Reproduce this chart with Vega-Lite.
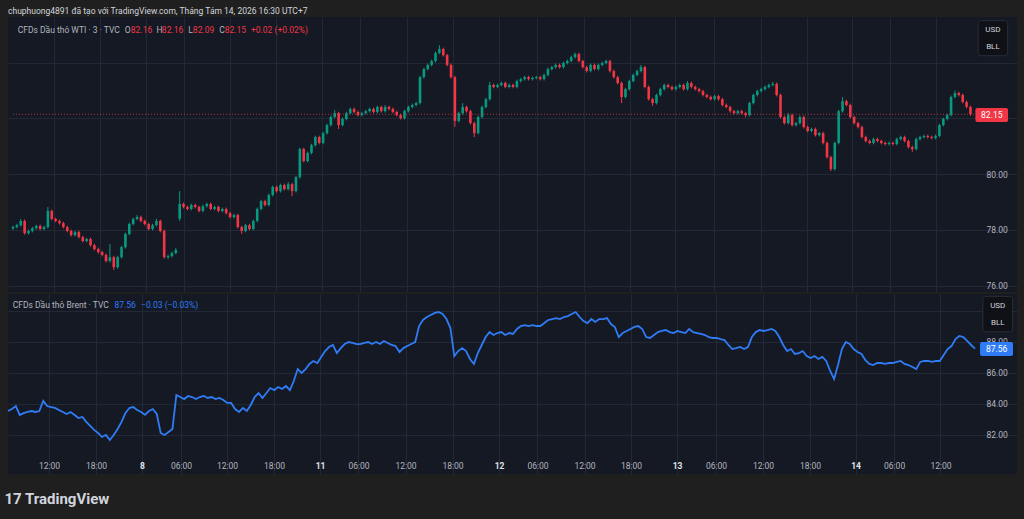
{
  "$schema": "https://vega.github.io/schema/vega-lite/v6.json",
  "background": "#1f1f1f",
  "padding": {"left": 4, "right": 7, "top": 6, "bottom": 13},
  "spacing": 2,
  "title": {"text": "17 TradingView", "orient": "bottom", "anchor": "start", "fontSize": 15, "fontWeight": "bold", "color": "#d1d4dc", "offset": 18},
  "config": {
    "font": "Roboto",
    "view": {"stroke": null},
    "axis": {"labelFont": "Roboto", "labelFontSize": 8.5, "labelColor": "#b2b5be", "gridColor": "#232836", "gridWidth": 1, "ticks": false, "domain": false, "labelOverlap": false}
  },
  "datasets": {
    "px": [
      {"t":0,"o":78.05,"h":78.15,"l":78.00,"c":78.10,"b":83.54},
      {"t":0.5,"o":78.10,"h":78.22,"l":78.05,"c":78.17,"b":83.67},
      {"t":1,"o":78.17,"h":78.39,"l":78.12,"c":78.32,"b":83.86},
      {"t":1.5,"o":78.32,"h":78.37,"l":77.83,"c":77.88,"b":83.29},
      {"t":2,"o":77.88,"h":78.01,"l":77.83,"c":77.96,"b":83.41},
      {"t":2.5,"o":77.96,"h":78.11,"l":77.91,"c":78.06,"b":83.48},
      {"t":3,"o":78.06,"h":78.19,"l":78.01,"c":78.14,"b":83.54},
      {"t":3.5,"o":78.14,"h":78.19,"l":77.98,"c":78.03,"b":83.48},
      {"t":4,"o":78.03,"h":78.15,"l":77.98,"c":78.10,"b":83.54},
      {"t":4.5,"o":78.10,"h":78.82,"l":78.05,"c":78.68,"b":84.19},
      {"t":5,"o":78.68,"h":78.73,"l":78.34,"c":78.39,"b":83.86},
      {"t":5.5,"o":78.39,"h":78.44,"l":78.27,"c":78.32,"b":83.80},
      {"t":6,"o":78.32,"h":78.37,"l":78.19,"c":78.24,"b":83.74},
      {"t":6.5,"o":78.24,"h":78.29,"l":78.05,"c":78.10,"b":83.61},
      {"t":7,"o":78.10,"h":78.15,"l":77.91,"c":77.96,"b":83.48},
      {"t":7.5,"o":77.96,"h":78.01,"l":77.76,"c":77.81,"b":83.35},
      {"t":8,"o":77.81,"h":77.97,"l":77.76,"c":77.92,"b":83.48},
      {"t":8.5,"o":77.92,"h":77.97,"l":77.69,"c":77.74,"b":83.29},
      {"t":9,"o":77.74,"h":77.79,"l":77.55,"c":77.60,"b":83.09},
      {"t":9.5,"o":77.60,"h":77.72,"l":77.55,"c":77.67,"b":83.16},
      {"t":10,"o":77.67,"h":77.72,"l":77.40,"c":77.45,"b":82.84},
      {"t":10.5,"o":77.45,"h":77.50,"l":77.26,"c":77.31,"b":82.58},
      {"t":11,"o":77.31,"h":77.36,"l":77.15,"c":77.20,"b":82.33},
      {"t":11.5,"o":77.20,"h":77.25,"l":77.05,"c":77.10,"b":82.13},
      {"t":12,"o":77.10,"h":77.15,"l":76.83,"c":76.88,"b":81.87},
      {"t":12.5,"o":76.88,"h":77.49,"l":76.83,"c":77.02,"b":82.00},
      {"t":13,"o":77.02,"h":77.07,"l":76.56,"c":76.66,"b":81.68},
      {"t":13.5,"o":76.66,"h":77.07,"l":76.61,"c":77.02,"b":82.00},
      {"t":14,"o":77.02,"h":77.43,"l":76.97,"c":77.38,"b":82.39},
      {"t":14.5,"o":77.38,"h":77.90,"l":77.33,"c":77.85,"b":82.84},
      {"t":15,"o":77.85,"h":78.26,"l":77.80,"c":78.21,"b":83.41},
      {"t":15.5,"o":78.21,"h":78.44,"l":78.16,"c":78.39,"b":83.74},
      {"t":16,"o":78.39,"h":78.53,"l":78.34,"c":78.46,"b":83.80},
      {"t":16.5,"o":78.46,"h":78.51,"l":78.27,"c":78.32,"b":83.61},
      {"t":17,"o":78.32,"h":78.37,"l":78.16,"c":78.21,"b":83.48},
      {"t":17.5,"o":78.21,"h":78.26,"l":77.98,"c":78.03,"b":83.29},
      {"t":18,"o":78.03,"h":78.22,"l":77.98,"c":78.17,"b":83.54},
      {"t":18.5,"o":78.17,"h":78.40,"l":78.12,"c":78.32,"b":83.67},
      {"t":19,"o":78.32,"h":78.37,"l":77.91,"c":77.96,"b":83.35},
      {"t":19.5,"o":77.96,"h":78.01,"l":76.97,"c":77.02,"b":82.13},
      {"t":20,"o":77.02,"h":77.11,"l":76.95,"c":77.06,"b":82.00},
      {"t":20.5,"o":77.06,"h":77.22,"l":77.01,"c":77.17,"b":82.19},
      {"t":21,"o":77.17,"h":77.35,"l":77.12,"c":77.28,"b":82.39},
      {"t":21.5,"o":78.40,"h":79.39,"l":78.32,"c":78.93,"b":84.57},
      {"t":22,"o":78.93,"h":78.98,"l":78.77,"c":78.82,"b":84.44},
      {"t":22.5,"o":78.82,"h":78.87,"l":78.70,"c":78.75,"b":84.31},
      {"t":23,"o":78.75,"h":78.94,"l":78.70,"c":78.89,"b":84.51},
      {"t":23.5,"o":78.89,"h":78.94,"l":78.77,"c":78.82,"b":84.44},
      {"t":24,"o":78.82,"h":78.87,"l":78.63,"c":78.68,"b":84.31},
      {"t":24.5,"o":78.68,"h":78.90,"l":78.63,"c":78.85,"b":84.44},
      {"t":25,"o":78.85,"h":78.98,"l":78.80,"c":78.93,"b":84.51},
      {"t":25.5,"o":78.93,"h":78.98,"l":78.70,"c":78.75,"b":84.38},
      {"t":26,"o":78.75,"h":78.87,"l":78.70,"c":78.82,"b":84.44},
      {"t":26.5,"o":78.82,"h":78.87,"l":78.63,"c":78.68,"b":84.31},
      {"t":27,"o":78.68,"h":78.80,"l":78.63,"c":78.75,"b":84.38},
      {"t":27.5,"o":78.75,"h":78.80,"l":78.55,"c":78.60,"b":84.25},
      {"t":28,"o":78.60,"h":78.65,"l":78.41,"c":78.46,"b":84.06},
      {"t":28.5,"o":78.46,"h":78.58,"l":78.41,"c":78.53,"b":84.06},
      {"t":29,"o":78.53,"h":78.58,"l":78.05,"c":78.10,"b":83.67},
      {"t":29.5,"o":78.10,"h":78.15,"l":77.85,"c":77.96,"b":83.48},
      {"t":30,"o":77.96,"h":78.22,"l":77.91,"c":78.17,"b":83.74},
      {"t":30.5,"o":78.17,"h":78.22,"l":77.98,"c":78.03,"b":83.54},
      {"t":31,"o":78.03,"h":78.37,"l":77.98,"c":78.32,"b":83.93},
      {"t":31.5,"o":78.32,"h":78.80,"l":78.27,"c":78.75,"b":84.44},
      {"t":32,"o":78.75,"h":79.08,"l":78.70,"c":79.03,"b":84.70},
      {"t":32.5,"o":79.03,"h":79.08,"l":78.84,"c":78.89,"b":84.38},
      {"t":33,"o":78.89,"h":79.30,"l":78.84,"c":79.25,"b":84.70},
      {"t":33.5,"o":79.25,"h":79.59,"l":79.20,"c":79.54,"b":85.02},
      {"t":34,"o":79.54,"h":79.59,"l":79.34,"c":79.39,"b":84.89},
      {"t":34.5,"o":79.39,"h":79.66,"l":79.34,"c":79.61,"b":85.09},
      {"t":35,"o":79.61,"h":79.66,"l":79.41,"c":79.46,"b":84.96},
      {"t":35.5,"o":79.46,"h":79.72,"l":79.41,"c":79.64,"b":85.15},
      {"t":36,"o":79.64,"h":79.69,"l":79.21,"c":79.39,"b":84.89},
      {"t":36.5,"o":79.39,"h":79.94,"l":79.34,"c":79.89,"b":85.47},
      {"t":37,"o":79.89,"h":80.95,"l":79.84,"c":80.90,"b":86.24},
      {"t":37.5,"o":80.90,"h":80.95,"l":80.42,"c":80.47,"b":85.99},
      {"t":38,"o":80.47,"h":80.81,"l":80.42,"c":80.76,"b":86.24},
      {"t":38.5,"o":80.76,"h":81.09,"l":80.71,"c":81.04,"b":86.57},
      {"t":39,"o":81.04,"h":81.38,"l":80.99,"c":81.33,"b":86.76},
      {"t":39.5,"o":81.33,"h":81.38,"l":81.07,"c":81.12,"b":86.63},
      {"t":40,"o":81.12,"h":81.52,"l":81.07,"c":81.47,"b":87.02},
      {"t":40.5,"o":81.47,"h":81.81,"l":81.42,"c":81.76,"b":87.40},
      {"t":41,"o":81.76,"h":82.10,"l":81.71,"c":82.05,"b":87.66},
      {"t":41.5,"o":82.05,"h":82.30,"l":82.00,"c":82.19,"b":87.79},
      {"t":42,"o":82.19,"h":82.24,"l":81.62,"c":81.76,"b":87.27},
      {"t":42.5,"o":81.76,"h":82.03,"l":81.71,"c":81.98,"b":87.59},
      {"t":43,"o":81.98,"h":82.24,"l":81.93,"c":82.19,"b":87.85},
      {"t":43.5,"o":82.19,"h":82.39,"l":82.14,"c":82.34,"b":87.98},
      {"t":44,"o":82.34,"h":82.39,"l":82.18,"c":82.23,"b":87.92},
      {"t":44.5,"o":82.23,"h":82.28,"l":82.07,"c":82.12,"b":87.85},
      {"t":45,"o":82.12,"h":82.24,"l":82.07,"c":82.19,"b":87.85},
      {"t":45.5,"o":82.19,"h":82.31,"l":82.14,"c":82.26,"b":87.92},
      {"t":46,"o":82.26,"h":82.39,"l":82.21,"c":82.34,"b":87.98},
      {"t":46.5,"o":82.34,"h":82.39,"l":82.18,"c":82.23,"b":87.85},
      {"t":47,"o":82.23,"h":82.46,"l":82.18,"c":82.41,"b":87.98},
      {"t":47.5,"o":82.41,"h":82.46,"l":82.21,"c":82.26,"b":87.85},
      {"t":48,"o":82.26,"h":82.48,"l":82.21,"c":82.41,"b":88.05},
      {"t":48.5,"o":82.41,"h":82.46,"l":82.29,"c":82.34,"b":87.92},
      {"t":49,"o":82.34,"h":82.39,"l":82.18,"c":82.23,"b":87.79},
      {"t":49.5,"o":82.23,"h":82.28,"l":82.07,"c":82.12,"b":87.72},
      {"t":50,"o":82.12,"h":82.17,"l":81.96,"c":82.01,"b":87.34},
      {"t":50.5,"o":82.01,"h":82.31,"l":81.96,"c":82.26,"b":87.59},
      {"t":51,"o":82.26,"h":82.46,"l":82.21,"c":82.41,"b":87.72},
      {"t":51.5,"o":82.41,"h":82.53,"l":82.36,"c":82.48,"b":87.85},
      {"t":52,"o":82.48,"h":82.60,"l":82.43,"c":82.55,"b":87.98},
      {"t":52.5,"o":82.55,"h":83.53,"l":82.50,"c":83.48,"b":89.01},
      {"t":53,"o":83.48,"h":83.82,"l":83.43,"c":83.77,"b":89.40},
      {"t":53.5,"o":83.77,"h":83.97,"l":83.72,"c":83.92,"b":89.59},
      {"t":54,"o":83.92,"h":84.11,"l":83.87,"c":84.06,"b":89.72},
      {"t":54.5,"o":84.06,"h":84.40,"l":84.01,"c":84.35,"b":89.85},
      {"t":55,"o":84.35,"h":84.63,"l":84.30,"c":84.49,"b":89.91},
      {"t":55.5,"o":84.49,"h":84.54,"l":84.22,"c":84.27,"b":89.78},
      {"t":56,"o":84.27,"h":84.32,"l":83.87,"c":83.92,"b":89.46},
      {"t":56.5,"o":83.92,"h":83.97,"l":83.43,"c":83.48,"b":88.88},
      {"t":57,"o":83.48,"h":83.53,"l":81.70,"c":81.91,"b":87.08},
      {"t":57.5,"o":81.91,"h":82.24,"l":81.86,"c":82.19,"b":87.40},
      {"t":58,"o":82.19,"h":82.55,"l":82.14,"c":82.41,"b":87.59},
      {"t":58.5,"o":82.41,"h":82.46,"l":82.21,"c":82.26,"b":87.40},
      {"t":59,"o":82.26,"h":82.31,"l":81.78,"c":81.83,"b":86.89},
      {"t":59.5,"o":81.83,"h":81.88,"l":81.33,"c":81.47,"b":86.57},
      {"t":60,"o":81.47,"h":82.10,"l":81.42,"c":82.05,"b":87.27},
      {"t":60.5,"o":82.05,"h":82.46,"l":82.00,"c":82.41,"b":87.79},
      {"t":61,"o":82.41,"h":82.74,"l":82.36,"c":82.69,"b":88.30},
      {"t":61.5,"o":82.69,"h":83.31,"l":82.64,"c":83.20,"b":88.62},
      {"t":62,"o":83.20,"h":83.25,"l":83.08,"c":83.13,"b":88.43},
      {"t":62.5,"o":83.13,"h":83.25,"l":83.08,"c":83.20,"b":88.56},
      {"t":63,"o":83.20,"h":83.32,"l":83.15,"c":83.27,"b":88.62},
      {"t":63.5,"o":83.27,"h":83.32,"l":83.08,"c":83.13,"b":88.43},
      {"t":64,"o":83.13,"h":83.25,"l":83.08,"c":83.20,"b":88.56},
      {"t":64.5,"o":83.20,"h":83.25,"l":83.08,"c":83.13,"b":88.50},
      {"t":65,"o":83.13,"h":83.39,"l":83.08,"c":83.34,"b":88.82},
      {"t":65.5,"o":83.34,"h":83.46,"l":83.29,"c":83.41,"b":89.01},
      {"t":66,"o":83.41,"h":83.53,"l":83.36,"c":83.48,"b":89.07},
      {"t":66.5,"o":83.48,"h":83.53,"l":83.36,"c":83.41,"b":89.01},
      {"t":67,"o":83.41,"h":83.50,"l":83.36,"c":83.45,"b":89.07},
      {"t":67.5,"o":83.45,"h":83.53,"l":83.40,"c":83.48,"b":89.01},
      {"t":68,"o":83.48,"h":83.53,"l":83.36,"c":83.41,"b":89.01},
      {"t":68.5,"o":83.41,"h":83.61,"l":83.36,"c":83.56,"b":89.20},
      {"t":69,"o":83.56,"h":83.82,"l":83.51,"c":83.77,"b":89.40},
      {"t":69.5,"o":83.77,"h":83.89,"l":83.72,"c":83.84,"b":89.46},
      {"t":70,"o":83.84,"h":83.97,"l":83.79,"c":83.92,"b":89.52},
      {"t":70.5,"o":83.92,"h":83.97,"l":83.79,"c":83.84,"b":89.46},
      {"t":71,"o":83.84,"h":84.04,"l":83.79,"c":83.99,"b":89.59},
      {"t":71.5,"o":83.99,"h":84.11,"l":83.94,"c":84.06,"b":89.65},
      {"t":72,"o":84.06,"h":84.25,"l":84.01,"c":84.20,"b":89.78},
      {"t":72.5,"o":84.20,"h":84.36,"l":84.15,"c":84.31,"b":89.91},
      {"t":73,"o":84.31,"h":84.36,"l":84.01,"c":84.06,"b":89.59},
      {"t":73.5,"o":84.06,"h":84.11,"l":83.79,"c":83.84,"b":89.33},
      {"t":74,"o":83.84,"h":83.89,"l":83.65,"c":83.70,"b":89.20},
      {"t":74.5,"o":83.70,"h":83.97,"l":83.65,"c":83.92,"b":89.46},
      {"t":75,"o":83.92,"h":83.97,"l":83.72,"c":83.77,"b":89.27},
      {"t":75.5,"o":83.77,"h":83.97,"l":83.72,"c":83.92,"b":89.46},
      {"t":76,"o":83.92,"h":84.04,"l":83.87,"c":83.99,"b":89.46},
      {"t":76.5,"o":83.99,"h":84.11,"l":83.94,"c":84.06,"b":89.52},
      {"t":77,"o":84.06,"h":84.11,"l":83.65,"c":83.70,"b":89.14},
      {"t":77.5,"o":83.70,"h":83.75,"l":83.43,"c":83.48,"b":88.95},
      {"t":78,"o":83.48,"h":83.53,"l":83.22,"c":83.27,"b":88.30},
      {"t":78.5,"o":83.27,"h":83.32,"l":82.55,"c":82.77,"b":88.56},
      {"t":79,"o":82.77,"h":83.10,"l":82.72,"c":83.05,"b":88.69},
      {"t":79.5,"o":83.05,"h":83.39,"l":83.00,"c":83.34,"b":88.82},
      {"t":80,"o":83.34,"h":83.61,"l":83.29,"c":83.56,"b":88.95},
      {"t":80.5,"o":83.56,"h":83.75,"l":83.51,"c":83.70,"b":89.01},
      {"t":81,"o":83.70,"h":83.92,"l":83.65,"c":83.84,"b":88.82},
      {"t":81.5,"o":83.84,"h":83.89,"l":83.08,"c":83.13,"b":88.30},
      {"t":82,"o":83.13,"h":83.18,"l":82.64,"c":82.69,"b":88.24},
      {"t":82.5,"o":82.69,"h":82.74,"l":82.45,"c":82.55,"b":88.43},
      {"t":83,"o":82.55,"h":82.89,"l":82.50,"c":82.84,"b":88.62},
      {"t":83.5,"o":82.84,"h":83.10,"l":82.79,"c":83.05,"b":88.69},
      {"t":84,"o":83.05,"h":83.25,"l":83.00,"c":83.20,"b":88.75},
      {"t":84.5,"o":83.20,"h":83.25,"l":83.08,"c":83.13,"b":88.62},
      {"t":85,"o":83.13,"h":83.18,"l":83.00,"c":83.05,"b":88.56},
      {"t":85.5,"o":83.05,"h":83.18,"l":83.00,"c":83.13,"b":88.69},
      {"t":86,"o":83.13,"h":83.25,"l":83.08,"c":83.20,"b":88.62},
      {"t":86.5,"o":83.20,"h":83.25,"l":83.00,"c":83.05,"b":88.56},
      {"t":87,"o":83.05,"h":83.34,"l":83.00,"c":83.27,"b":88.82},
      {"t":87.5,"o":83.27,"h":83.32,"l":83.08,"c":83.13,"b":88.62},
      {"t":88,"o":83.13,"h":83.18,"l":83.00,"c":83.05,"b":88.56},
      {"t":88.5,"o":83.05,"h":83.10,"l":82.93,"c":82.98,"b":88.50},
      {"t":89,"o":82.98,"h":83.03,"l":82.79,"c":82.84,"b":88.43},
      {"t":89.5,"o":82.84,"h":82.89,"l":82.72,"c":82.77,"b":88.30},
      {"t":90,"o":82.77,"h":82.82,"l":82.64,"c":82.69,"b":88.24},
      {"t":90.5,"o":82.69,"h":82.85,"l":82.64,"c":82.80,"b":88.24},
      {"t":91,"o":82.80,"h":82.85,"l":82.64,"c":82.69,"b":88.17},
      {"t":91.5,"o":82.69,"h":82.74,"l":82.43,"c":82.48,"b":88.11},
      {"t":92,"o":82.48,"h":82.53,"l":82.36,"c":82.41,"b":87.79},
      {"t":92.5,"o":82.41,"h":82.46,"l":82.21,"c":82.26,"b":87.53},
      {"t":93,"o":82.26,"h":82.31,"l":82.14,"c":82.19,"b":87.59},
      {"t":93.5,"o":82.19,"h":82.31,"l":82.14,"c":82.26,"b":87.66},
      {"t":94,"o":82.26,"h":82.31,"l":82.14,"c":82.19,"b":87.53},
      {"t":94.5,"o":82.19,"h":82.24,"l":82.04,"c":82.12,"b":87.66},
      {"t":95,"o":82.12,"h":82.60,"l":82.07,"c":82.55,"b":88.30},
      {"t":95.5,"o":82.55,"h":82.89,"l":82.50,"c":82.84,"b":88.62},
      {"t":96,"o":82.84,"h":83.03,"l":82.79,"c":82.98,"b":88.75},
      {"t":96.5,"o":82.98,"h":83.10,"l":82.93,"c":83.05,"b":88.69},
      {"t":97,"o":83.05,"h":83.18,"l":83.00,"c":83.13,"b":88.75},
      {"t":97.5,"o":83.13,"h":83.25,"l":83.08,"c":83.20,"b":88.82},
      {"t":98,"o":83.20,"h":83.31,"l":83.15,"c":83.24,"b":88.69},
      {"t":98.5,"o":83.24,"h":83.29,"l":82.79,"c":82.84,"b":88.30},
      {"t":99,"o":82.84,"h":82.89,"l":82.00,"c":82.05,"b":87.79},
      {"t":99.5,"o":82.05,"h":82.10,"l":81.78,"c":81.83,"b":87.40},
      {"t":100,"o":81.83,"h":82.20,"l":81.78,"c":82.12,"b":87.53},
      {"t":100.5,"o":82.12,"h":82.17,"l":81.71,"c":81.76,"b":87.21},
      {"t":101,"o":81.76,"h":81.88,"l":81.71,"c":81.83,"b":87.27},
      {"t":101.5,"o":81.83,"h":82.10,"l":81.78,"c":82.05,"b":87.40},
      {"t":102,"o":82.05,"h":82.10,"l":81.64,"c":81.69,"b":87.08},
      {"t":102.5,"o":81.69,"h":81.74,"l":81.50,"c":81.55,"b":86.95},
      {"t":103,"o":81.55,"h":81.67,"l":81.50,"c":81.62,"b":87.08},
      {"t":103.5,"o":81.62,"h":81.67,"l":81.35,"c":81.40,"b":86.89},
      {"t":104,"o":81.40,"h":81.52,"l":81.35,"c":81.47,"b":87.02},
      {"t":104.5,"o":81.47,"h":81.52,"l":81.07,"c":81.12,"b":86.76},
      {"t":105,"o":81.12,"h":81.17,"l":80.56,"c":80.61,"b":86.12},
      {"t":105.5,"o":80.61,"h":80.66,"l":80.11,"c":80.18,"b":85.60},
      {"t":106,"o":80.18,"h":81.17,"l":80.13,"c":81.12,"b":86.50},
      {"t":106.5,"o":81.12,"h":82.31,"l":81.07,"c":82.26,"b":87.53},
      {"t":107,"o":82.26,"h":82.76,"l":82.21,"c":82.62,"b":87.98},
      {"t":107.5,"o":82.62,"h":82.67,"l":82.43,"c":82.48,"b":87.85},
      {"t":108,"o":82.48,"h":82.53,"l":82.00,"c":82.05,"b":87.53},
      {"t":108.5,"o":82.05,"h":82.10,"l":81.78,"c":81.83,"b":87.34},
      {"t":109,"o":81.83,"h":81.88,"l":81.64,"c":81.69,"b":87.21},
      {"t":109.5,"o":81.69,"h":81.74,"l":81.28,"c":81.33,"b":86.82},
      {"t":110,"o":81.33,"h":81.38,"l":81.14,"c":81.19,"b":86.57},
      {"t":110.5,"o":81.19,"h":81.24,"l":81.07,"c":81.12,"b":86.50},
      {"t":111,"o":81.12,"h":81.31,"l":81.07,"c":81.26,"b":86.63},
      {"t":111.5,"o":81.26,"h":81.31,"l":81.14,"c":81.19,"b":86.63},
      {"t":112,"o":81.19,"h":81.24,"l":81.07,"c":81.12,"b":86.57},
      {"t":112.5,"o":81.12,"h":81.17,"l":81.03,"c":81.08,"b":86.63},
      {"t":113,"o":81.08,"h":81.17,"l":81.03,"c":81.12,"b":86.63},
      {"t":113.5,"o":81.12,"h":81.17,"l":81.03,"c":81.08,"b":86.70},
      {"t":114,"o":81.08,"h":81.31,"l":81.03,"c":81.26,"b":86.76},
      {"t":114.5,"o":81.26,"h":81.38,"l":81.21,"c":81.33,"b":86.57},
      {"t":115,"o":81.33,"h":81.38,"l":81.14,"c":81.19,"b":86.50},
      {"t":115.5,"o":81.19,"h":81.24,"l":80.92,"c":80.97,"b":86.37},
      {"t":116,"o":80.97,"h":81.02,"l":80.80,"c":80.90,"b":86.24},
      {"t":116.5,"o":80.90,"h":81.31,"l":80.85,"c":81.26,"b":86.70},
      {"t":117,"o":81.26,"h":81.38,"l":81.21,"c":81.33,"b":86.76},
      {"t":117.5,"o":81.33,"h":81.42,"l":81.28,"c":81.37,"b":86.76},
      {"t":118,"o":81.37,"h":81.42,"l":81.28,"c":81.33,"b":86.70},
      {"t":118.5,"o":81.33,"h":81.38,"l":81.25,"c":81.30,"b":86.76},
      {"t":119,"o":81.30,"h":81.42,"l":81.25,"c":81.37,"b":86.76},
      {"t":119.5,"o":81.37,"h":81.81,"l":81.32,"c":81.76,"b":87.15},
      {"t":120,"o":81.76,"h":82.03,"l":81.71,"c":81.98,"b":87.53},
      {"t":120.5,"o":81.98,"h":82.17,"l":81.93,"c":82.12,"b":87.72},
      {"t":121,"o":82.12,"h":82.82,"l":82.07,"c":82.77,"b":88.17},
      {"t":121.5,"o":82.77,"h":83.00,"l":82.72,"c":82.91,"b":88.37},
      {"t":122,"o":82.91,"h":82.96,"l":82.79,"c":82.84,"b":88.30},
      {"t":122.5,"o":82.84,"h":82.89,"l":82.54,"c":82.59,"b":88.05},
      {"t":123,"o":82.59,"h":82.64,"l":82.36,"c":82.41,"b":87.79},
      {"t":123.5,"o":82.41,"h":82.46,"l":82.09,"c":82.15,"b":87.56}
    ]
  },
  "vconcat": [
    {
      "width": 1009,
      "height": 275,
      "title": {"text": "chuphuong4891 đã tạo với TradingView.com, Tháng Tám 14, 2026 16:30 UTC+7", "anchor": "start", "fontSize": 8.5, "fontWeight": "normal", "color": "#d1d4dc", "offset": 2},
      "view": {"fill": "#151924", "stroke": null},
      "data": {"name": "px"},
      "layer": [
        {
          "mark": {"type": "rule", "strokeWidth": 1},
          "encoding": {
            "x": {"field": "t", "type": "quantitative", "scale": {"domain": [0, 128.86], "nice": false, "zero": false},
              "axis": {"values": [5.24, 11.24, 17.11, 22.09, 27.97, 33.97, 39.85, 44.76, 50.77, 56.77, 62.71, 67.62, 73.63, 79.57, 85.44, 90.42, 96.42, 102.43, 108.24, 113.16, 119.09], "labels": false, "grid": true, "title": null}},
            "y": {"field": "l", "type": "quantitative", "scale": {"domain": [75.77, 85.64], "nice": false, "zero": false},
              "axis": {"orient": "right", "offset": -37, "values": [76, 77, 78, 79, 80, 81, 82, 83, 84, 85], "labelExpr": "datum.value > 83 ? '' : format(datum.value, '.2f')", "labelPadding": 6, "labelAlign": "left", "grid": true, "title": null}},
            "y2": {"field": "h"},
            "color": {"condition": {"test": "datum.c >= datum.o", "value": "#089981"}, "value": "#f23645"}
          }
        },
        {
          "mark": {"type": "bar", "width": 2.6},
          "encoding": {
            "x": {"field": "t", "type": "quantitative"},
            "y": {"field": "o", "type": "quantitative"},
            "y2": {"field": "c"},
            "color": {"condition": {"test": "datum.c >= datum.o", "value": "#089981"}, "value": "#f23645"}
          }
        },
        {
          "data": {"values": [{}]},
          "mark": {"type": "rule", "color": "#f23645", "strokeDash": [1, 2], "opacity": 0.7},
          "encoding": {
            "x": {"datum": 0, "type": "quantitative"},
            "x2": {"datum": 124.1},
            "y": {"datum": 82.15, "type": "quantitative"}
          }
        },
        {
          "data": {"values": [{}]},
          "mark": {"type": "rect", "color": "#f23645", "cornerRadius": 2},
          "encoding": {
            "x": {"datum": 124.14, "type": "quantitative"},
            "x2": {"datum": 128.35},
            "y": {"datum": 82.37, "type": "quantitative"},
            "y2": {"datum": 81.87}
          }
        },
        {
          "data": {"values": [{}]},
          "mark": {"type": "text", "text": "82.15", "color": "#ffffff", "fontSize": 8.5, "align": "center", "baseline": "middle"},
          "encoding": {
            "x": {"datum": 126.25, "type": "quantitative"},
            "y": {"datum": 82.12, "type": "quantitative"}
          }
        },
        {
          "data": {"values": [{}]},
          "mark": {"type": "rect", "fill": "#0f1117", "stroke": "#2a2e39", "strokeWidth": 1, "cornerRadius": 3},
          "encoding": {
            "x": {"datum": 124.5, "type": "quantitative"},
            "x2": {"datum": 128.3},
            "y": {"datum": 85.51, "type": "quantitative"},
            "y2": {"datum": 84.25}
          }
        },
        {
          "data": {"values": [{}]},
          "mark": {"type": "text", "text": "USD", "color": "#d1d4dc", "fontSize": 8, "align": "center", "baseline": "middle"},
          "encoding": {
            "x": {"datum": 126.4, "type": "quantitative"},
            "y": {"datum": 85.17, "type": "quantitative"}
          }
        },
        {
          "data": {"values": [{}]},
          "mark": {"type": "text", "text": "BLL", "color": "#d1d4dc", "fontSize": 8, "align": "center", "baseline": "middle"},
          "encoding": {
            "x": {"datum": 126.4, "type": "quantitative"},
            "y": {"datum": 84.56, "type": "quantitative"}
          }
        },
        {
          "data": {"values": [{}]},
          "mark": {"type": "text", "text": "CFDs Dầu thô WTI · 3 · TVC", "color": "#b2b5be", "fontSize": 8.5, "align": "left", "baseline": "middle"},
          "encoding": {
            "x": {"datum": 0.6, "type": "quantitative"},
            "y": {"datum": 85.19, "type": "quantitative"}
          }
        },
        {
          "data": {"values": [{}]},
          "mark": {"type": "text", "text": "O", "color": "#b2b5be", "fontSize": 8.5, "align": "left", "baseline": "middle"},
          "encoding": {
            "x": {"datum": 14.4, "type": "quantitative"},
            "y": {"datum": 85.19, "type": "quantitative"}
          }
        },
        {
          "data": {"values": [{}]},
          "mark": {"type": "text", "text": "82.16", "color": "#f23645", "fontSize": 8.5, "align": "left", "baseline": "middle"},
          "encoding": {
            "x": {"datum": 15.2, "type": "quantitative"},
            "y": {"datum": 85.19, "type": "quantitative"}
          }
        },
        {
          "data": {"values": [{}]},
          "mark": {"type": "text", "text": "H", "color": "#b2b5be", "fontSize": 8.5, "align": "left", "baseline": "middle"},
          "encoding": {
            "x": {"datum": 18.5, "type": "quantitative"},
            "y": {"datum": 85.19, "type": "quantitative"}
          }
        },
        {
          "data": {"values": [{}]},
          "mark": {"type": "text", "text": "82.16", "color": "#f23645", "fontSize": 8.5, "align": "left", "baseline": "middle"},
          "encoding": {
            "x": {"datum": 19.2, "type": "quantitative"},
            "y": {"datum": 85.19, "type": "quantitative"}
          }
        },
        {
          "data": {"values": [{}]},
          "mark": {"type": "text", "text": "L", "color": "#b2b5be", "fontSize": 8.5, "align": "left", "baseline": "middle"},
          "encoding": {
            "x": {"datum": 22.6, "type": "quantitative"},
            "y": {"datum": 85.19, "type": "quantitative"}
          }
        },
        {
          "data": {"values": [{}]},
          "mark": {"type": "text", "text": "82.09", "color": "#f23645", "fontSize": 8.5, "align": "left", "baseline": "middle"},
          "encoding": {
            "x": {"datum": 23.2, "type": "quantitative"},
            "y": {"datum": 85.19, "type": "quantitative"}
          }
        },
        {
          "data": {"values": [{}]},
          "mark": {"type": "text", "text": "C", "color": "#b2b5be", "fontSize": 8.5, "align": "left", "baseline": "middle"},
          "encoding": {
            "x": {"datum": 26.6, "type": "quantitative"},
            "y": {"datum": 85.19, "type": "quantitative"}
          }
        },
        {
          "data": {"values": [{}]},
          "mark": {"type": "text", "text": "82.15", "color": "#f23645", "fontSize": 8.5, "align": "left", "baseline": "middle"},
          "encoding": {
            "x": {"datum": 27.3, "type": "quantitative"},
            "y": {"datum": 85.19, "type": "quantitative"}
          }
        },
        {
          "data": {"values": [{}]},
          "mark": {"type": "text", "text": "+0.02 (+0.02%)", "color": "#f23645", "fontSize": 8.5, "align": "left", "baseline": "middle"},
          "encoding": {
            "x": {"datum": 30.7, "type": "quantitative"},
            "y": {"datum": 85.19, "type": "quantitative"}
          }
        }
      ]
    },
    {
      "width": 1009,
      "height": 180,
      "view": {"fill": "#151924", "stroke": null},
      "data": {"name": "px"},
      "layer": [
        {
          "mark": {"type": "line", "color": "#2f7cf6", "strokeWidth": 1.8},
          "encoding": {
            "x": {"field": "t", "type": "quantitative", "scale": {"domain": [0, 128.86], "nice": false, "zero": false},
              "axis": {"values": [5.24, 11.24, 17.11, 22.09, 27.97, 33.97, 39.85, 44.76, 50.77, 56.77, 62.71, 67.62, 73.63, 79.57, 85.44, 90.42, 96.42, 102.43, 108.24, 113.16, 119.09], "offset": -20, "labelPadding": 7, "grid": true, "title": null,
                "labelExpr": "['12:00','18:00','8','06:00','12:00','18:00','11','06:00','12:00','18:00','12','06:00','12:00','18:00','13','06:00','12:00','18:00','14','06:00','12:00'][indexof([5.24, 11.24, 17.11, 22.09, 27.97, 33.97, 39.85, 44.76, 50.77, 56.77, 62.71, 67.62, 73.63, 79.57, 85.44, 90.42, 96.42, 102.43, 108.24, 113.16, 119.09], datum.value)]",
                "labelColor": {"condition": {"test": "indexof([17.11, 39.85, 62.71, 85.44, 108.24], datum.value) >= 0", "value": "#e0e3eb"}, "value": "#b2b5be"},
                "labelFontWeight": {"condition": {"test": "indexof([17.11, 39.85, 62.71, 85.44, 108.24], datum.value) >= 0", "value": "bold"}, "value": "normal"}}},
            "y": {"field": "b", "type": "quantitative", "scale": {"domain": [79.49, 91.07], "nice": false, "zero": false},
              "axis": {"orient": "right", "offset": -37, "values": [82, 84, 86, 88, 90], "labelExpr": "datum.value > 88 ? '' : format(datum.value, '.2f')", "labelPadding": 6, "labelAlign": "left", "grid": true, "title": null}}
          }
        },
        {
          "data": {"values": [{}]},
          "mark": {"type": "rect", "color": "#2f7cf6", "cornerRadius": 2},
          "encoding": {
            "x": {"datum": 124.14, "type": "quantitative"},
            "x2": {"datum": 128.35},
            "y": {"datum": 87.98, "type": "quantitative"},
            "y2": {"datum": 87.08}
          }
        },
        {
          "data": {"values": [{}]},
          "mark": {"type": "text", "text": "87.56", "color": "#ffffff", "fontSize": 8.5, "align": "center", "baseline": "middle"},
          "encoding": {
            "x": {"datum": 126.25, "type": "quantitative"},
            "y": {"datum": 87.53, "type": "quantitative"}
          }
        },
        {
          "data": {"values": [{}]},
          "mark": {"type": "rect", "fill": "#0f1117", "stroke": "#2a2e39", "strokeWidth": 1, "cornerRadius": 3},
          "encoding": {
            "x": {"datum": 124.5, "type": "quantitative"},
            "x2": {"datum": 128.3},
            "y": {"datum": 90.92, "type": "quantitative"},
            "y2": {"datum": 88.64}
          }
        },
        {
          "data": {"values": [{}]},
          "mark": {"type": "text", "text": "USD", "color": "#d1d4dc", "fontSize": 8, "align": "center", "baseline": "middle"},
          "encoding": {
            "x": {"datum": 126.4, "type": "quantitative"},
            "y": {"datum": 90.32, "type": "quantitative"}
          }
        },
        {
          "data": {"values": [{}]},
          "mark": {"type": "text", "text": "BLL", "color": "#d1d4dc", "fontSize": 8, "align": "center", "baseline": "middle"},
          "encoding": {
            "x": {"datum": 126.4, "type": "quantitative"},
            "y": {"datum": 89.2, "type": "quantitative"}
          }
        },
        {
          "data": {"values": [{}]},
          "mark": {"type": "text", "text": "CFDs Dầu thô Brent · TVC", "color": "#b2b5be", "fontSize": 8.5, "align": "left", "baseline": "middle"},
          "encoding": {
            "x": {"datum": 0.6, "type": "quantitative"},
            "y": {"datum": 90.38, "type": "quantitative"}
          }
        },
        {
          "data": {"values": [{}]},
          "mark": {"type": "text", "text": "87.56", "color": "#2f7cf6", "fontSize": 8.5, "align": "left", "baseline": "middle"},
          "encoding": {
            "x": {"datum": 13.6, "type": "quantitative"},
            "y": {"datum": 90.38, "type": "quantitative"}
          }
        },
        {
          "data": {"values": [{}]},
          "mark": {"type": "text", "text": "−0.03 (−0.03%)", "color": "#2f7cf6", "fontSize": 8.5, "align": "left", "baseline": "middle"},
          "encoding": {
            "x": {"datum": 17.0, "type": "quantitative"},
            "y": {"datum": 90.38, "type": "quantitative"}
          }
        }
      ]
    }
  ]
}
